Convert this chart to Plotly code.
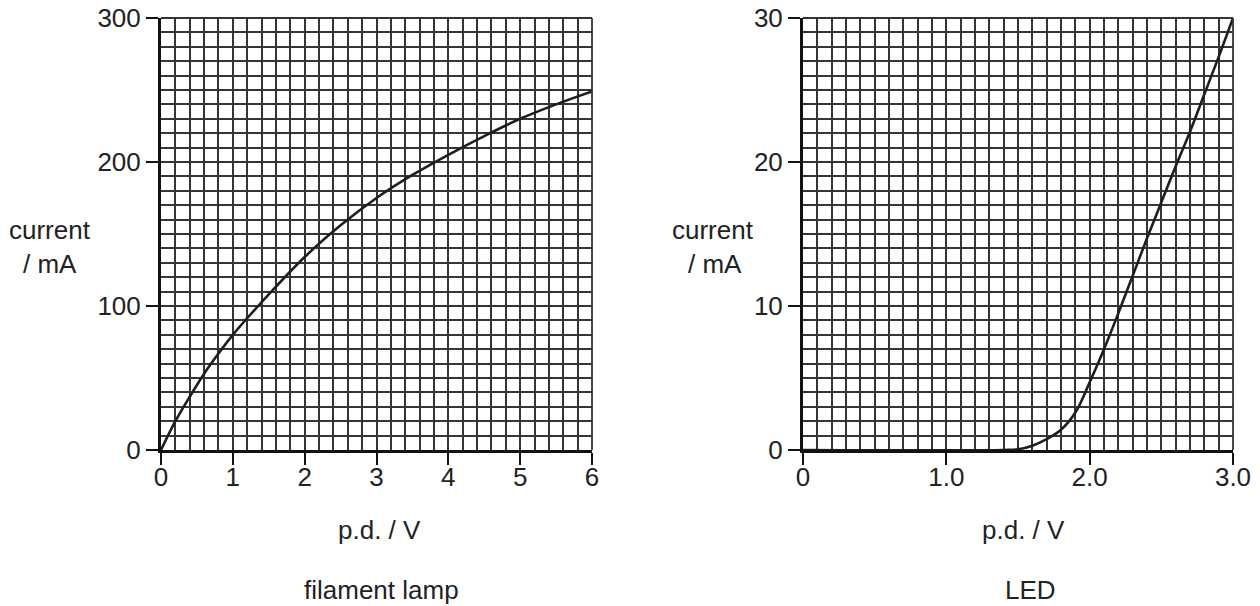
import plotly.graph_objects as go

# Filament lamp: p.d. / V vs current / mA
lamp_v = [0, 0.2, 0.4, 0.6, 0.8, 1.0, 1.5, 2.0, 2.5, 3.0, 3.5, 4.0, 4.5, 5.0, 5.5, 6.0]
lamp_i = [0, 20, 37, 53, 67, 80, 108, 134, 156, 175, 191, 205, 218, 230, 240, 249]

# LED: p.d. / V vs current / mA
led_v = [0, 1.40, 1.5, 1.6, 1.7, 1.8, 1.9, 2.0, 2.1, 2.2, 2.3, 2.4, 2.5, 2.6, 2.7, 2.8, 2.9, 3.0]
led_i = [0, 0, 0.05, 0.3, 0.75, 1.4, 2.6, 4.7, 7.0, 9.5, 12.1, 14.7, 17.2, 19.7, 22.1, 24.7, 27.3, 30.0]

lamp_xticks = [0, 1, 2, 3, 4, 5, 6]
lamp_xlabels = ["0", "1", "2", "3", "4", "5", "6"]
lamp_yticks = [0, 100, 200, 300]
led_xticks = [0, 1, 2, 3]
led_xlabels = ["0", "1.0", "2.0", "3.0"]
led_yticks = [0, 10, 20, 30]

FONT = "Liberation Sans, Arial, sans-serif"
TXT = "#222222"
GRID = "#353535"
GW = 1.8

fig = go.Figure()
fig.add_trace(go.Scatter(x=lamp_v, y=lamp_i, mode="lines", line=dict(color="#1e1e1e", width=2.6, shape="spline"),
                         xaxis="x", yaxis="y", hoverinfo="skip"))
fig.add_trace(go.Scatter(x=led_v, y=led_i, mode="lines", line=dict(color="#1e1e1e", width=2.6, shape="spline"),
                         xaxis="x2", yaxis="y2", hoverinfo="skip"))

ydom = [(606 - 450) / 606, (606 - 18) / 606]


def common():
    return dict(showgrid=True, gridcolor=GRID, gridwidth=GW,
                showline=True, linecolor="#111", linewidth=3, zeroline=False,
                ticks="outside", ticklen=12, tickwidth=1.6, tickcolor="#111",
                tickfont=dict(family=FONT, size=26, color=TXT), fixedrange=True, automargin=False)


def xax(domain, rng, tv, tt, minor_dt, anchor):
    d = common()
    d.update(domain=domain, range=rng, anchor=anchor, tickmode="array", tickvals=tv, ticktext=tt,
             ticklabelstandoff=-10,
             minor=dict(dtick=minor_dt, tick0=0, showgrid=True, gridcolor=GRID, gridwidth=GW, ticks=""))
    return d


def yax(rng, tv, minor_dt, anchor):
    d = common()
    d.update(domain=ydom, range=rng, anchor=anchor, tickmode="array", tickvals=tv,
             minor=dict(dtick=minor_dt, tick0=0, showgrid=True, gridcolor=GRID, gridwidth=GW, ticks=""))
    return d


fig.update_layout(
    width=1260, height=606, margin=dict(l=0, r=0, t=0, b=0),
    paper_bgcolor="white", plot_bgcolor="white", showlegend=False,
    xaxis=xax([161 / 1260, 592 / 1260], [0, 6], lamp_xticks, lamp_xlabels, 0.2, "y"),
    yaxis=yax([0, 300], lamp_yticks, 10, "x"),
    xaxis2=xax([803 / 1260, 1233 / 1260], [0, 3], led_xticks, led_xlabels, 0.1, "y2"),
    yaxis2=yax([0, 30], led_yticks, 1, "x2"),
)

# top and right frame edges drawn in grid style
for xr, yr in (("x domain", "y domain"), ("x2 domain", "y2 domain")):
    fig.add_shape(type="line", xref=xr, yref=yr, x0=0, x1=1, y0=1, y1=1, line=dict(color=GRID, width=GW))
    fig.add_shape(type="line", xref=xr, yref=yr, x0=1, x1=1, y0=0, y1=1, line=dict(color=GRID, width=GW))

annots = [
    ("current", 50, 230), ("/ mA", 50, 264),
    ("p.d. / V", 379, 530), ("filament lamp", 381, 590),
    ("current", 713, 230), ("/ mA", 715, 264),
    ("p.d. / V", 1023, 530), ("LED", 1030, 590),
]
for t, x, y in annots:
    fig.add_annotation(text=t, x=x / 1260, y=1 - y / 606, xref="paper", yref="paper",
                       showarrow=False, xanchor="center", yanchor="middle",
                       font=dict(family=FONT, size=26, color=TXT))

fig.write_html("out.html")
